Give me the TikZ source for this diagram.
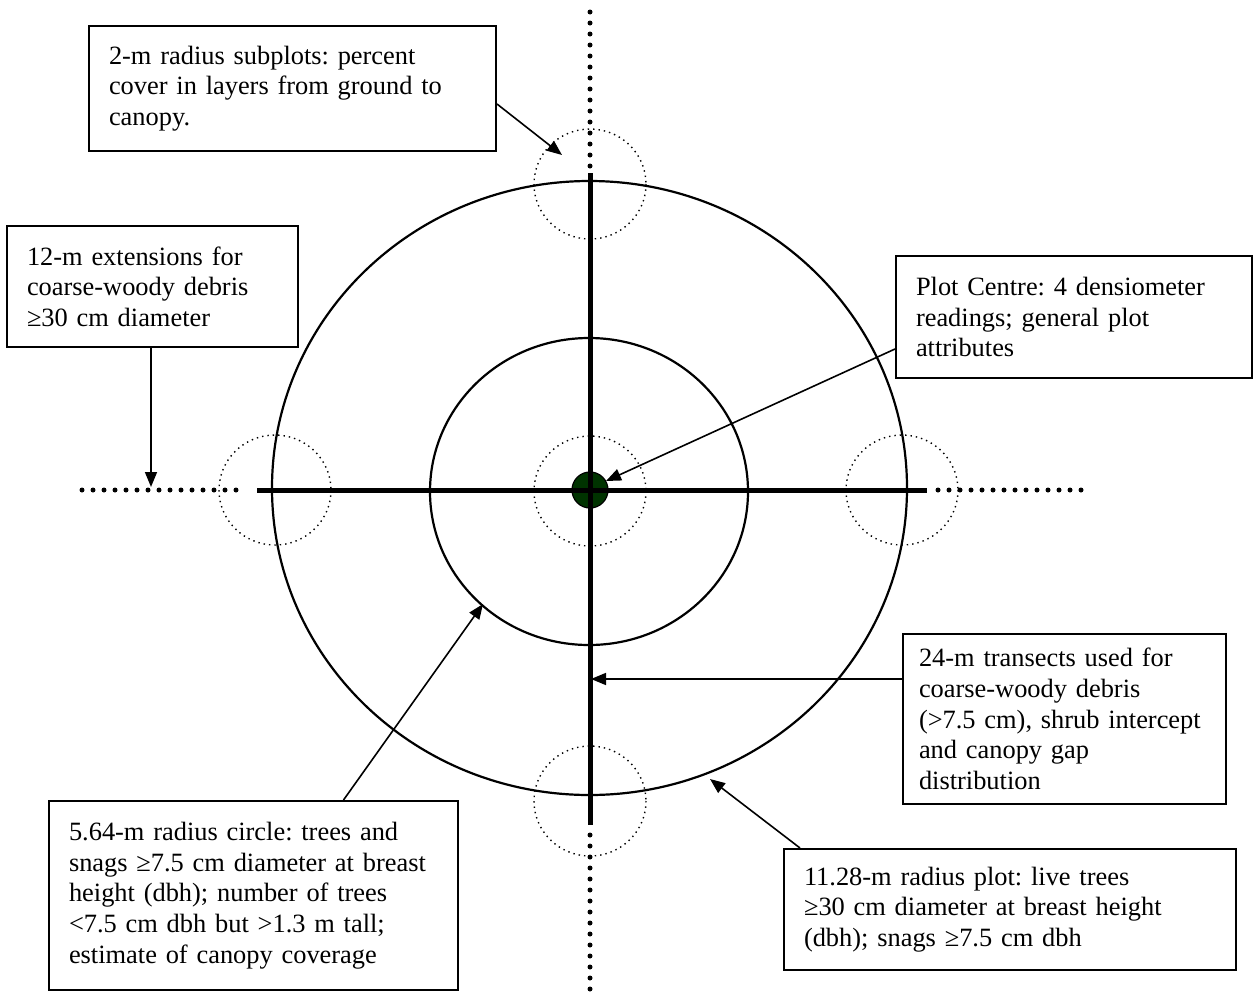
\documentclass[tikz,border=0pt]{standalone}
\usepackage{fontspec}
\setmainfont{Liberation Serif}
\usepackage{tikz}
\usetikzlibrary{arrows.meta,positioning,calc}
\definecolor{ink}{HTML}{000000}
\definecolor{centregreen}{HTML}{003300}
\frenchspacing
\tikzset{
  notebox/.style={draw=ink,fill=white,line width=1pt,anchor=north west,
                  align=left,inner xsep=10pt,inner ysep=0pt,
                  font=\fontsize{13.2}{15.3}\selectfont},
  pointer/.style={-{Triangle[length=7.5pt,width=6pt]},line width=0.8pt,color=ink},
  transect/.style={line width=2.5pt,color=ink},
  extension/.style={line width=2.5pt,line cap=round,dash pattern=on 0pt off 5.5pt,color=ink},
  subplot/.style={line width=0.7pt,dotted,color=ink},
  plotring/.style={line width=1.1pt,color=ink}
}

\begin{document}
\begin{tikzpicture}[x=0.5pt,y=-0.5pt]
  \useasboundingbox[fill=white] (0,0) rectangle (1254,996);

  % fixed-radius plots and subplots
  \draw[plotring] (589.5,488) ellipse [x radius=317.5,y radius=307];
  \draw[plotring] (589,491.5) ellipse [x radius=159,y radius=153.5];
  \foreach \cx/\cy in {590/184,275/490,902/490,590/491,590/801}
    \draw[subplot] (\cx,\cy) ellipse [x radius=56,y radius=55];

  % 12-m extensions and 24-m transects
  \draw[extension] (82,490) -- (245,490);
  \draw[extension] (938,490) -- (1090,490);
  \draw[extension] (590,12) -- (590,173);
  \draw[extension] (590,835) -- (590,994);
  \fill[centregreen,draw=ink,line width=0.6pt] (590,490) circle [radius=18];
  \draw[transect] (257,490) -- (927,490);
  \draw[transect] (590,173) -- (590,825);

  % notes
  \node[notebox,text width=183.5pt,minimum height=62.5pt] (subnote) at (88,25)
    {2-m radius subplots: percent\\cover in layers from ground to\\canopy.};
  \node[notebox,text width=125.5pt,minimum height=60.5pt] (extnote) at (6,225)
    {12-m extensions for\\coarse-woody debris\\≥30 cm diameter};
  \node[notebox,text width=158pt,minimum height=61pt] (centrenote) at (895,255)
    {Plot Centre: 4 densiometer\\readings; general plot\\attributes};
  \node[notebox,inner xsep=8pt,text width=145.5pt,minimum height=85pt] (transnote) at (902,633)
    {24-m transects used for\\coarse-woody debris\\(>7.5 cm), shrub intercept\\and canopy gap\\distribution};
  \node[notebox,text width=184.5pt,minimum height=94.5pt] (innernote) at (48,800)
    {5.64-m radius circle: trees and\\snags ≥7.5 cm diameter at breast\\height (dbh); number of trees\\<7.5 cm dbh but >1.3 m tall;\\estimate of canopy coverage};
  \node[notebox,text width=206pt,minimum height=60.5pt] (outernote) at (783,848)
    {11.28-m radius plot: live trees\\≥30 cm diameter at breast height\\(dbh); snags ≥7.5 cm dbh};

  % pointers
  \coordinate (subtip) at (562,155);
  \coordinate (exttip) at (151,487);
  \coordinate (centretip) at (606,481);
  \coordinate (transtip) at (591,679);
  \coordinate (innertip) at (483,604);
  \coordinate (outertip) at (710,779);
  \draw[pointer] ([yshift=-7.75pt]subnote.east) -- (subtip);
  \draw[pointer] (extnote.south -| exttip) -- (exttip);
  \draw[pointer] ([yshift=-16pt]centrenote.west) -- (centretip);
  \draw[pointer] (transnote.west |- transtip) -- (transtip);
  \draw[pointer] ([xshift=45pt]innernote.north) -- (innertip);
  \draw[pointer] ([xshift=8.5pt]outernote.north west) -- (outertip);
\end{tikzpicture}
\end{document}
